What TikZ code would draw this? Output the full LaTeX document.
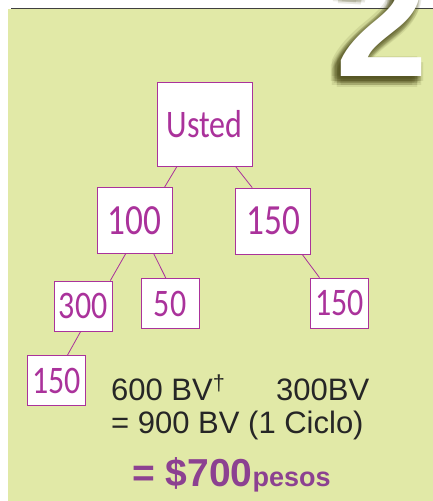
\documentclass[tikz,border=0pt]{standalone}
\usepackage{fontspec}
\setmainfont{Liberation Sans}
\newfontfamily\boxfont[FakeStretch=0.82]{Carlito}
\definecolor{cgreen}{RGB}{225,233,167}
\definecolor{cmag}{RGB}{170,50,155}
\definecolor{cpurple}{RGB}{140,65,145}
\definecolor{cshadow}{RGB}{80,80,30}

\begin{document}
\begin{tikzpicture}[x=1pt,y=-1pt,-,
  main node/.style={draw=cmag,fill=white,line width=0.8pt,inner sep=0pt,text=cmag,
    font=\boxfont\fontsize{39}{39}\selectfont,minimum width=95pt,minimum height=84pt},
  mid node/.style={main node,font=\boxfont\fontsize{43}{43}\selectfont,
    minimum width=75pt,minimum height=66pt},
  small node/.style={main node,font=\boxfont\fontsize{39}{39}\selectfont,
    minimum width=58pt,minimum height=50pt},
  sum text/.style={anchor=base west,inner sep=0pt,font=\fontsize{31}{31}\selectfont,text=black!85},
  big two/.style={anchor=base west,inner sep=0pt,font=\bfseries\fontsize{167}{167}\selectfont}]
  \clip (0,0) rectangle (433,501);
  \fill[white] (0,0) rectangle (433,501);
  \fill[cgreen] (8,9) rectangle (433,501);
  \draw[line width=1.3pt,black!75] (11,8.3) -- (433,8.3);

  % the big 2 and its shadow
  \foreach \r in {2,4,6}
    \foreach \a in {0,45,...,315}
      \node[big two,text=cshadow,text opacity=0.12] at ([shift={(\a:\r)}]331,81) {2};
  \node[big two,text=white] (two) at (335,76) {2};

  \node[main node] (1) at (204.5,124) {Usted};
  \node[mid node] (2) at (134.7,220.3) {100};
  \node[mid node] (3) at (273.2,221) {150};
  \node[small node] (4) at (83.3,306) {300};
  \node[small node] (5) at (170,303.8) {50};
  \node[small node] (6) at (339.5,303) {150};
  \node[small node] (7) at (56.5,380.5) {150};

  \path[draw=cmag,line width=0.8pt]
    ([xshift=-27.5pt]1.south) edge ([xshift=30pt]2.north)
    ([xshift=31pt]1.south) edge ([xshift=-21pt]3.north)
    ([xshift=-9pt]2.south) edge ([xshift=27pt]4.north)
    ([xshift=19pt]2.south) edge ([xshift=-4pt]5.north)
    ([xshift=29pt]3.south) edge ([xshift=-20pt]6.north)
    ([xshift=-2.6pt]4.south) edge ([xshift=11pt]7.north);

  \node[sum text] (bv1) at (111,400) {600 BV\textsuperscript{†}};
  \node[sum text] (bv2) at (276,400) {300BV};
  \node[sum text] (bv3) at (111,433) {= 900 BV (1 Ciclo)};
  \node[sum text,text=cpurple,font=\bfseries\fontsize{39}{39}\selectfont] (total) at (132,486)
    {= \$700{\fontsize{27}{27}\selectfont pesos}};
\end{tikzpicture}
\end{document}
